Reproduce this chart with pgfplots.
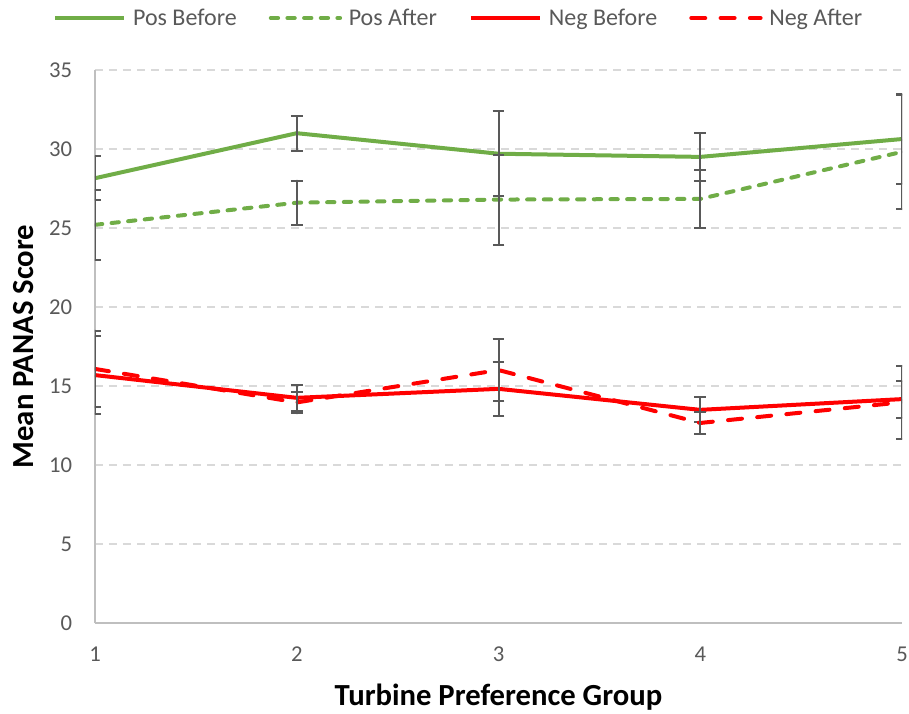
\documentclass[border=0pt]{standalone}
\usepackage{fontspec}
\setmainfont{Carlito}
\usepackage{pgfplots}
\pgfplotsset{compat=1.18}

\definecolor{posg}{HTML}{70AD47}
\definecolor{negr}{HTML}{FF0000}
\definecolor{errc}{HTML}{595959}
\definecolor{txtc}{HTML}{595959}
\definecolor{gridc}{HTML}{D9D9D9}
\definecolor{axc}{HTML}{BFBFBF}

% mean (y) with symmetric error (ey)
\pgfplotstableread{
x   y      ey
1   28.15  1.40
2   31.00  1.10
3   29.70  2.70
4   29.50  1.53
5   30.63  2.87
}\posbefore
\pgfplotstableread{
x   y      ey
1   25.20  2.20
2   26.60  1.40
3   26.80  2.85
4   26.84  1.83
5   29.82  3.62
}\posafter
\pgfplotstableread{
x   y      ey
1   15.69  2.46
2   14.25  0.82
3   14.82  1.69
4   13.49  0.80
5   14.17  1.17
}\negbefore
\pgfplotstableread{
x   y      ey
1   16.08  2.42
2   13.96  0.69
3   16.01  1.94
4   12.66  0.67
5   13.97  2.30
}\negafter

\begin{document}
\begin{tikzpicture}
\begin{pgfinterruptboundingbox}
\begin{axis}[
  name=ax, at={(0pt,0pt)}, anchor=south west,
  scale only axis, width=605.25pt, height=414.75pt,
  xmin=1, xmax=5, ymin=0, ymax=35,
  xtick={1,2,3,4,5}, ytick={0,5,...,35},
  axis lines=left,
  axis line style={draw=axc, line width=1.2pt, -},
  major tick length=0pt,
  ymajorgrids,
  grid style={gridc, line width=1pt, dash pattern=on 6pt off 4.5pt},
  /pgf/number format/assume math mode=true,
  ticklabel style={font=\fontsize{17}{17}\selectfont, text=txtc, inner sep=0pt},
  yticklabel style={anchor=east, xshift=-17pt},
  xticklabel style={anchor=north, yshift=-18pt},
  xlabel={\textbf{Turbine Preference Group}},
  ylabel={\textbf{Mean PANAS Score}},
  label style={font=\fontsize{23}{23}\selectfont, inner sep=0pt},
  xlabel style={at={(axis description cs:0.5,-0.1483)}, anchor=base},
  ylabel style={at={(axis description cs:-0.0768,0.5)}, anchor=base},
  legend columns=4,
  legend style={at={(axis description cs:0.451,1.094)}, anchor=center,
    draw=none, fill=none, inner sep=0pt,
    font=\fontsize{18}{18}\selectfont, text=txtc,
    nodes={inner sep=2pt},
    /tikz/every odd column/.append style={column sep=3pt},
    /tikz/every even column/.append style={column sep=22pt}},
  legend image code/.code={\draw[#1] (0pt,0pt) -- (52pt,0pt);},
  error bars/y dir=both, error bars/y explicit,
  error bars/error bar style={errc, line width=1.5pt, solid},
  error bars/error mark options={rotate=90, errc, line width=1.5pt, mark size=4.4pt, solid},
]
\addplot[posg, line width=3pt, mark=none]
  table[x=x, y=y, y error=ey] {\posbefore};
\addlegendentry{Pos Before}
\addplot[posg, line width=3pt, mark=none, line cap=round, dash pattern=on 5.5pt off 7pt]
  table[x=x, y=y, y error=ey] {\posafter};
\addlegendentry{Pos After}
\addplot[negr, line width=3pt, mark=none]
  table[x=x, y=y, y error=ey] {\negbefore};
\addlegendentry{Neg Before}
\addplot[negr, line width=3pt, mark=none, line cap=round, dash pattern=on 10.5pt off 11.5pt]
  table[x=x, y=y, y error=ey] {\negafter};
\addlegendentry{Neg After}
\end{axis}
\end{pgfinterruptboundingbox}
\path[use as bounding box] ([shift={(-71.25pt,-67.5pt)}]ax.south west) rectangle ++(681.75pt,534.75pt);
\end{tikzpicture}
\end{document}
